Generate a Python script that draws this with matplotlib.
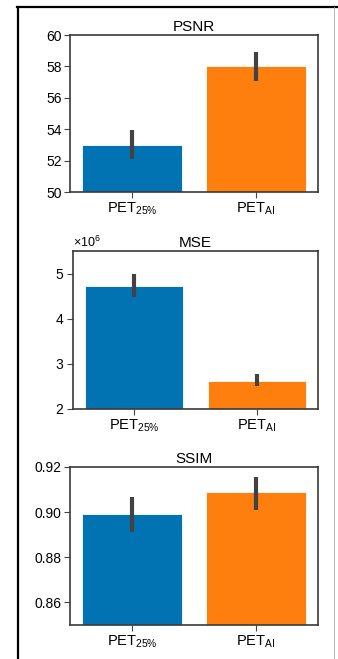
import numpy as np
import matplotlib
matplotlib.use("Agg")
import matplotlib.pyplot as plt
from matplotlib.lines import Line2D
from matplotlib.ticker import ScalarFormatter

plt.rcParams['font.family'] = ['Liberation Sans', 'DejaVu Sans']
plt.rcParams['mathtext.fontset'] = 'custom'
plt.rcParams['mathtext.rm'] = 'Liberation Sans'
plt.rcParams['mathtext.it'] = 'Liberation Sans'
plt.rcParams['mathtext.default'] = 'regular'

groups = ['PET$_{25\\%}$', 'PET$_{AI}$']
colors = ['#0173b2', '#ff7f0e']

# mean and confidence interval per metric
psnr_mean = [53.0, 58.05]
psnr_lo = [52.1, 57.1]
psnr_hi = [53.95, 58.95]

mse_mean = [4.72e6, 2.63e6]
mse_lo = [4.48e6, 2.50e6]
mse_hi = [5.00e6, 2.77e6]

ssim_mean = [0.899, 0.9087]
ssim_lo = [0.8911, 0.9010]
ssim_hi = [0.9065, 0.9154]

panels = [
    ('PSNR', psnr_mean, psnr_lo, psnr_hi, (50, 60), [50, 52, 54, 56, 58, 60]),
    ('MSE', mse_mean, mse_lo, mse_hi, (2e6, 5.5e6), [2e6, 3e6, 4e6, 5e6]),
    ('SSIM', ssim_mean, ssim_lo, ssim_hi, (0.85, 0.92), [0.86, 0.88, 0.90, 0.92]),
]
ax_rects = [
    [0.207, 0.7086, 0.734, 0.2382],
    [0.215, 0.3794, 0.726, 0.2397],
    [0.207, 0.0516, 0.734, 0.2398],
]

fig = plt.figure(figsize=(3.38, 6.59), dpi=100)

for (title, mean, lo, hi, ylim, yticks), rect in zip(panels, ax_rects):
    ax = fig.add_axes(rect)
    x = np.arange(len(groups))
    mean = np.array(mean)
    yerr = [mean - np.array(lo), np.array(hi) - mean]
    ax.bar(x, mean, width=0.8, color=colors, edgecolor='white', linewidth=0.6)
    ax.errorbar(x, mean, yerr=yerr, fmt='none', ecolor='#424242',
                elinewidth=3, capsize=0)
    ax.set_xlim(-0.5, 1.5)
    ax.set_ylim(*ylim)
    ax.set_yticks(yticks)
    ax.set_xticks(x)
    ax.set_xticklabels(groups, fontsize=10.5)
    ax.tick_params(axis='y', labelsize=10, length=4, width=0.8, color='#444444', pad=2)
    ax.tick_params(axis='x', length=4, width=0.8, color='#444444', pad=2)
    for s in ax.spines.values():
        s.set_color('#3a3a3a')
        s.set_linewidth(1.2)
    ax.set_title(title, fontsize=11, pad=3)
    if title == 'MSE':
        fmt = ScalarFormatter(useMathText=True)
        fmt.set_powerlimits((0, 0))
        ax.yaxis.set_major_formatter(fmt)
        ax.yaxis.get_offset_text().set_fontsize(9)
    if title == 'SSIM':
        ax.set_yticklabels(['%.2f' % t for t in yticks])

# outer frame
W, H = 338, 659
fig.add_artist(Line2D([17.5 / W, 17.5 / W], [0, 1 - 6.5 / H], color='black',
                      lw=1.6, transform=fig.transFigure))
fig.add_artist(Line2D([17 / W, 1], [1 - 6.5 / H, 1 - 6.5 / H], color='black',
                      lw=1.6, transform=fig.transFigure))
fig.add_artist(Line2D([334 / W, 334 / W], [0, 1 - 6.5 / H], color='#aaaaaa',
                      lw=0.6, transform=fig.transFigure))

fig.savefig('out.png', dpi=100)
